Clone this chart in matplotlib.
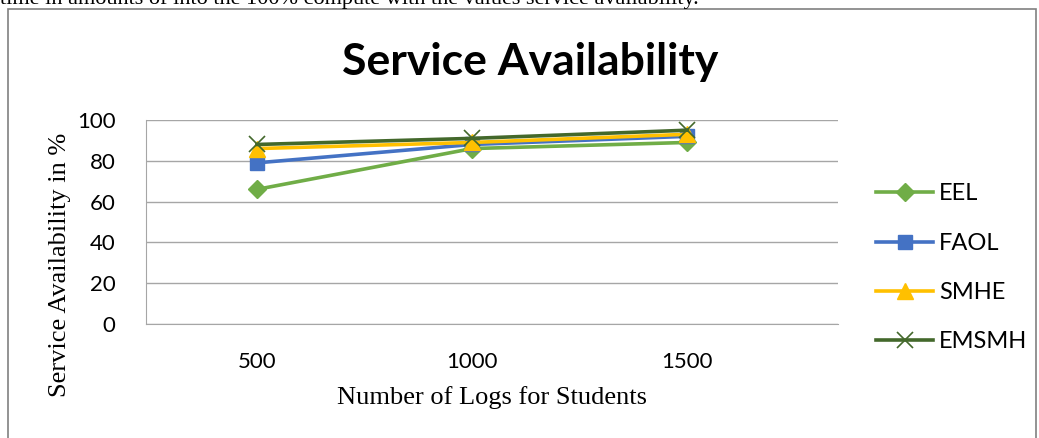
import numpy as np
import matplotlib
matplotlib.use('Agg')
import matplotlib.pyplot as plt
from matplotlib.patches import Rectangle

# data
logs = ['500', '1000', '1500']
eel = [66, 86, 89]
faol = [79, 88, 92]
smhe = [86, 89, 93]
emsmh = [88, 91, 95]

fig = plt.figure(figsize=(10.39, 4.38), dpi=100)

# page border and cut-off text line above the chart
fig.patches.append(Rectangle((8 / 1039, -0.05), 1028 / 1039, 1 - 9 / 438 + 0.05,
                             transform=fig.transFigure, fill=False,
                             edgecolor='#808080', linewidth=1.2))
fig.text(0.0, 1.003, 'time in amounts of into the 100% compute with the values service availability.',
         family='Liberation Serif', fontsize=16, va='center', ha='left')

ax = fig.add_axes([146 / 1039, 1 - 324 / 438, (838 - 146) / 1039, (324 - 120) / 438])
x = np.arange(len(logs))

ax.plot(x, eel, color='#70AD47', lw=2.6, marker='D', ms=9, label='EEL')
ax.plot(x, faol, color='#4472C4', lw=2.6, marker='s', ms=10, label='FAOL')
ax.plot(x, smhe, color='#FFC000', lw=2.6, marker='^', ms=11, label='SMHE')
ax.plot(x, emsmh, color='#43682B', lw=2.6, marker='x', ms=11, mew=1.2, label='EMSMH')

ax.set_xlim(-0.516, 2.70)
ax.set_ylim(0, 100)
ax.set_yticks(range(0, 101, 20))
ax.set_xticks(x)
ax.set_xticklabels(logs)
ax.grid(axis='y', color='#a6a6a6', lw=1)
ax.set_axisbelow(True)
for s in ['top', 'right']:
    ax.spines[s].set_visible(False)
ax.spines['left'].set_color('#a6a6a6')
ax.spines['bottom'].set_color('#a6a6a6')
ax.tick_params(axis='y', length=0, pad=22, labelsize=16)
ax.tick_params(axis='x', length=0, pad=20, labelsize=16)
for lab in ax.get_xticklabels() + ax.get_yticklabels():
    lab.set_family('Lato')

fig.text(530 / 1039, 1 - 62 / 438, 'Service Availability', family='Lato', fontweight='bold',
         fontsize=32, ha='center', va='center')
fig.text(60 / 1039, 1 - 265 / 438, 'Service Availability in %', family='Liberation Serif',
         fontsize=19, rotation=90, ha='center', va='center')
fig.text(492 / 1039, 1 - 398 / 438, 'Number of Logs for Students', family='Liberation Serif',
         fontsize=19, ha='center', va='center')

leg = fig.legend(loc='center left', bbox_to_anchor=(855 / 1039, 1 - 268 / 438), frameon=False,
                 prop={'family': 'Lato', 'size': 17}, handlelength=2.4, labelspacing=1.2,
                 handletextpad=0.25)

fig.savefig('out.png', dpi=100)
